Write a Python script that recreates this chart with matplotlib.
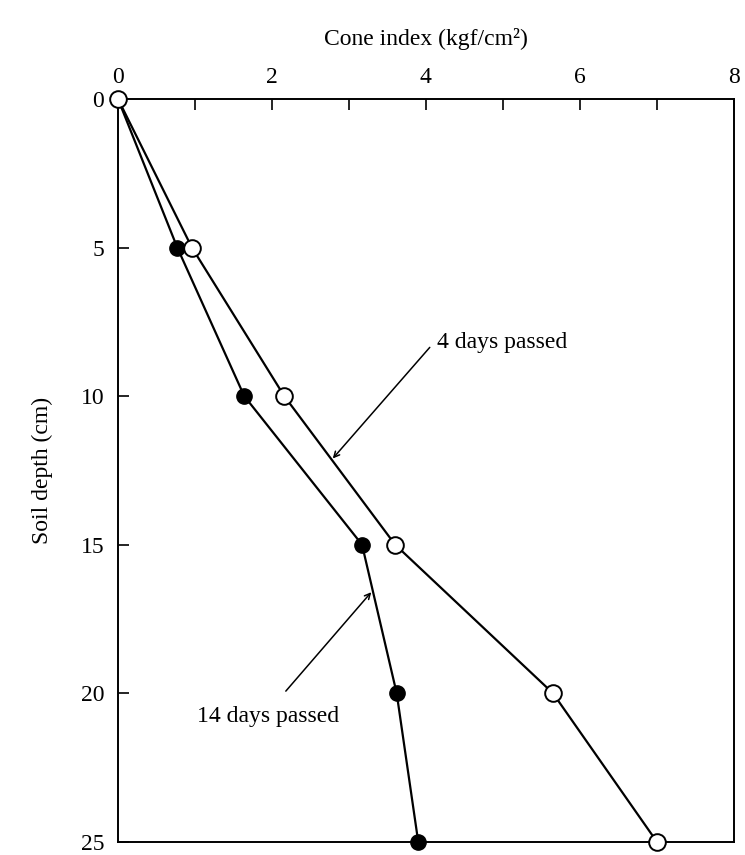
import matplotlib.pyplot as plt
import numpy as np

plt.rcParams['font.family'] = ['Liberation Serif', 'DejaVu Serif']

# Data
depth = [0, 5, 10, 15, 20, 25]
cone_4days = [0, 0.96, 2.16, 3.6, 5.65, 7.0]
cone_14days = [0, 0.77, 1.64, 3.17, 3.62, 3.9]

fig = plt.figure(figsize=(7.45, 8.55), dpi=100)
ax = fig.add_axes([0.1584, 0.0155, 0.8266, 0.8687])

ax.plot(cone_14days, depth, '-', color='black', lw=1.6, marker='o', ms=11,
        mfc='black', mec='black', zorder=3, clip_on=False)
ax.plot(cone_4days, depth, '-', color='black', lw=1.6, marker='o', ms=12,
        mfc='white', mec='black', mew=1.4, zorder=4, clip_on=False)

ax.set_xlim(0, 8)
ax.set_ylim(25, 0)

# x axis on top
ax.xaxis.tick_top()
ax.xaxis.set_label_position('top')
ax.set_xticks(np.arange(0, 9, 2))
ax.set_xticks(np.arange(1, 9, 2), minor=True)
ax.set_yticks([0, 5, 10, 15, 20, 25])
ax.tick_params(axis='x', which='both', direction='in', length=8, width=1.2,
               labelsize=17, pad=8)
ax.tick_params(axis='y', direction='in', length=8, width=1.2, labelsize=17, pad=10)
for s in ax.spines.values():
    s.set_linewidth(1.4)

ax.set_xlabel('Cone index (kgf/cm²)', fontsize=17, labelpad=16)
ax.set_ylabel('Soil depth (cm)', fontsize=17, labelpad=20)

# annotations: arrows and texts drawn separately
arrow = dict(arrowstyle='->', color='black', lw=1.1, shrinkA=0, shrinkB=0)
ax.annotate('', xy=(2.79, 12.1), xytext=(4.05, 8.36), arrowprops=arrow)
ax.text(4.15, 8.2, '4 days passed', fontsize=17, ha='left', va='center')
ax.annotate('', xy=(3.29, 16.6), xytext=(2.18, 19.93), arrowprops=arrow)
ax.text(1.95, 20.77, '14 days passed', fontsize=17, ha='center', va='center')

fig.savefig('out.png', dpi=100)
